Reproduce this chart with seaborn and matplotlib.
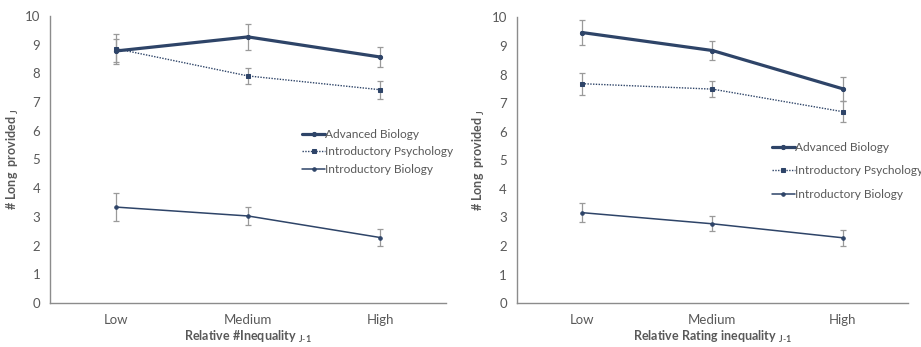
import matplotlib
matplotlib.use("Agg")
import matplotlib.pyplot as plt
import seaborn as sns
import pandas as pd

categories = ["Low", "Medium", "High"]
series = ["Advanced Biology", "Introductory Psychology", "Introductory Biology"]

# Left panel: Relative #Inequality
left_adv = [8.78, 9.27, 8.57]
left_adv_err = [0.40, 0.46, 0.35]
left_psy = [8.86, 7.91, 7.43]
left_psy_err = [0.52, 0.28, 0.32]
left_ibio = [3.34, 3.03, 2.28]
left_ibio_err = [0.48, 0.30, 0.29]

# Right panel: Relative Rating inequality
right_adv = [9.47, 8.84, 7.50]
right_adv_err = [0.42, 0.33, 0.43]
right_psy = [7.68, 7.49, 6.70]
right_psy_err = [0.39, 0.27, 0.37]
right_ibio = [3.17, 2.78, 2.29]
right_ibio_err = [0.34, 0.26, 0.29]

xlabels = [r"Relative #Inequality $_{\mathbf{J\text{-}1}}$", r"Relative Rating inequality $_{\mathbf{J\text{-}1}}$"]
ylabel = r"# Long  provided $_{\mathbf{J}}$"

sns.set_theme(style="white")
plt.rcParams["font.family"] = ["Lato", "DejaVu Sans"]
plt.rcParams["mathtext.fontset"] = "custom"
plt.rcParams["mathtext.rm"] = "Lato"
plt.rcParams["mathtext.bf"] = "Lato:bold"

NAVY = "#2E4468"
GREY_TXT = "#595959"
AX_COL = "#8C8C8C"
ERR_COL = "#9A9A9A"

styles = {
    "Advanced Biology": dict(lw=2.3, ls="-", marker="o", ms=3),
    "Introductory Psychology": dict(lw=1.0, ls=(0, (1, 1)), marker="s", ms=3.5),
    "Introductory Biology": dict(lw=1.1, ls="-", marker="o", ms=2.5),
}

fig = plt.figure(figsize=(9.21, 3.47), dpi=100)
ax1 = fig.add_axes([0.0543, 0.127, 0.430, 0.827])
ax2 = fig.add_axes([0.561, 0.126, 0.425, 0.824])

panels = [
    (ax1, [left_adv, left_psy, left_ibio], [left_adv_err, left_psy_err, left_ibio_err], xlabels[0], (0.625, 0.526), 0.55),
    (ax2, [right_adv, right_psy, right_ibio], [right_adv_err, right_psy_err, right_ibio_err], xlabels[1], (0.64, 0.463), 1.05),
]

for ax, vals, errs, xl, legpos, lsp in panels:
    rows = []
    for s, v in zip(series, vals):
        for c, y in zip(categories, v):
            rows.append({"cat": c, "val": y, "series": s})
    df = pd.DataFrame(rows)
    pos = {c: i for i, c in enumerate(categories)}
    df["x"] = df["cat"].map(pos)
    for s, v, e in zip(series, vals, errs):
        ax.errorbar([pos[c] for c in categories], v, yerr=e, fmt="none",
                    ecolor=ERR_COL, elinewidth=0.9, capsize=2.5, capthick=0.9, zorder=2)
    for s in series:
        st = styles[s]
        sub = df[df["series"] == s]
        sns.lineplot(data=sub, x="x", y="val", ax=ax, color=NAVY, lw=st["lw"],
                     linestyle=st["ls"], marker=st["marker"], markersize=st["ms"],
                     markeredgecolor=NAVY, markerfacecolor=NAVY, label=s, zorder=3,
                     errorbar=None)
    ax.set_xlim(-0.5, 2.5)
    ax.set_ylim(0, 10)
    ax.set_yticks(range(0, 11))
    ax.set_xticks([0, 1, 2])
    ax.set_xticklabels(categories)
    ax.set_xticks([0.5, 1.5, 2.5], minor=True)
    ax.tick_params(axis="x", which="major", length=0, colors=GREY_TXT, labelsize=9.5, pad=8)
    ax.tick_params(axis="x", which="minor", length=3, direction="in", color=AX_COL, width=0.9)
    ax.tick_params(axis="y", length=3, direction="out", color=AX_COL, width=0.9, labelcolor=GREY_TXT, labelsize=9.5, pad=4)
    for sp in ["top", "right"]:
        ax.spines[sp].set_visible(False)
    for sp in ["left", "bottom"]:
        ax.spines[sp].set_color(AX_COL)
        ax.spines[sp].set_linewidth(1.0)
    ax.set_xlabel(xl, color=GREY_TXT, fontsize=9, fontweight="bold", labelpad=2)
    ax.set_ylabel(ylabel, color=GREY_TXT, fontsize=9, fontweight="bold", labelpad=3)
    leg = ax.legend(loc="center left", bbox_to_anchor=legpos, frameon=False, fontsize=8.6,
                    handlelength=1.9, handletextpad=0.0, labelspacing=lsp, borderaxespad=0)
    for t in leg.get_texts():
        t.set_color(GREY_TXT)

fig.savefig("out.png", dpi=100, facecolor="white")
